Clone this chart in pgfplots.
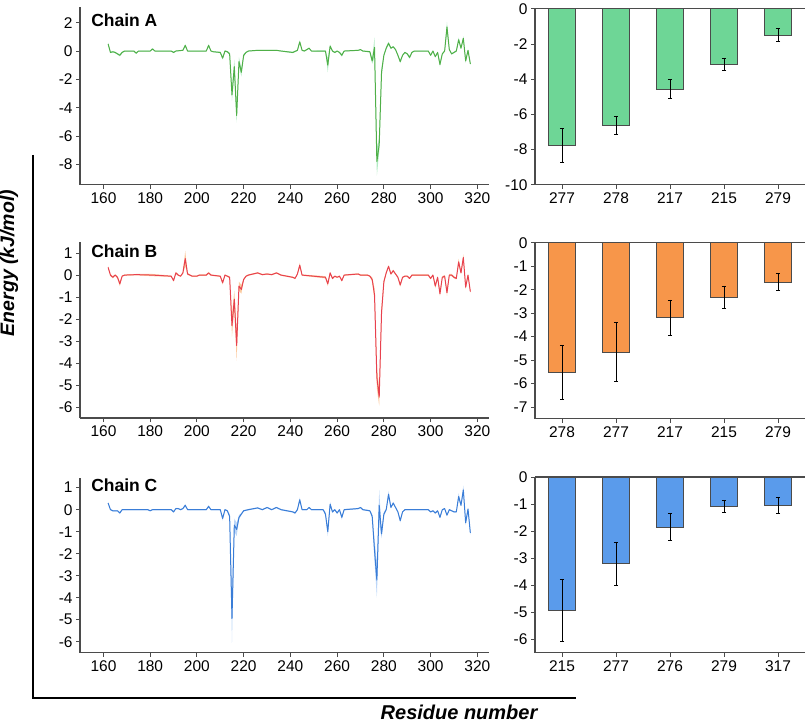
\documentclass[border=0pt]{standalone}
\usepackage{fontspec}
\setmainfont{Liberation Sans}
\usepackage{pgfplots}
\usepackage{pgfplotstable}
\pgfplotsset{compat=1.18}
\usepgfplotslibrary{fillbetween}

\definecolor{axgray}{RGB}{75,75,75}
\definecolor{lineA}{RGB}{80,175,72}
\definecolor{bandA}{RGB}{150,228,175}
\definecolor{lineB}{RGB}{232,65,78}
\definecolor{bandB}{RGB}{250,185,130}
\definecolor{lineC}{RGB}{58,125,215}
\definecolor{bandC}{RGB}{165,200,245}
\definecolor{barA}{RGB}{110,214,150}
\definecolor{barB}{RGB}{247,150,74}
\definecolor{barC}{RGB}{90,155,235}

\pgfplotstableread{
x v e
162 0.5 0.1
163 -0.1 0.05
164 -0.05 0.05
165 -0.1 0.05
166 -0.2 0.05
167 -0.3 0.08
168 -0.1 0.05
169 0 0.03
173 0 0.03
174 -0.15 0.05
175 0 0.03
180 0 0.03
181 0.15 0.05
182 0 0.03
189 0 0.03
190 -0.1 0.05
191 0 0.03
194 0.05 0.03
195 0.4 0.08
196 0 0.03
204 0 0.03
205 0.4 0.08
206 0 0.03
207 -0.05 0.03
210 -0.1 0.05
211 -0.5 0.1
212 0 0.05
213 -0.05 0.05
214 -0.2 0.1
215 -3.1 0.4
216 -1.1 0.5
217 -4.55 0.5
218 -0.75 0.3
219 -1.5 0.3
220 -0.3 0.1
221 -0.1 0.05
222 0 0.03
226 0.05 0.03
230 0.05 0.03
234 0.05 0.03
236 0 0.03
241 -0.1 0.05
243 0.05 0.05
244 0.65 0.1
245 0.05 0.05
246 0 0.03
248 0.2 0.05
249 0 0.03
255 0 0.05
256 -1.0 0.5
257 0.35 0.1
258 0 0.05
259 -0.1 0.05
260 0 0.03
261 -0.1 0.05
262 -0.3 0.1
263 0 0.03
269 0.05 0.03
270 0.1 0.03
271 0 0.03
274 -0.05 0.05
275 -0.7 0.2
276 0.25 0.7
277 -7.8 1.0
278 -6.6 0.5
279 -1.5 0.35
280 -0.3 0.1
281 0.2 0.1
282 0.55 0.1
283 0.2 0.05
284 0.3 0.05
285 0.1 0.05
286 -0.3 0.05
287 -0.75 0.1
288 -0.3 0.05
289 -0.1 0.05
290 -0.2 0.05
291 -0.45 0.1
292 -0.1 0.05
293 0 0.03
299 0 0.03
300 -0.3 0.05
301 0 0.05
302 -0.4 0.05
303 -0.1 0.05
304 -0.95 0.15
305 -0.2 0.05
306 0 0.05
307 1.7 0.35
308 0.1 0.05
309 -0.2 0.05
310 -0.1 0.05
311 0 0.05
312 0.8 0.15
313 0.2 0.05
314 0.9 0.15
315 -0.7 0.15
316 0.05 0.05
317 -0.9 0.1
}\chainA

\pgfplotstableread{
x v e
162 0.35 0.05
163 0 0.05
164 -0.1 0.05
165 0 0.03
166 -0.1 0.05
167 -0.4 0.1
168 -0.05 0.03
169 0 0.03
174 0.02 0.03
181 0.0 0.05
189 -0.05 0.03
190 -0.25 0.05
191 0.1 0.05
192 0 0.03
193 -0.05 0.03
194 0.1 0.05
195 0.75 0.35
196 0.05 0.05
197 0 0.03
198 -0.05 0.03
200 -0.05 0.03
201 0 0.03
204 0 0.03
205 0.1 0.05
206 0 0.03
210 -0.05 0.03
211 -0.35 0.08
212 0 0.03
213 -0.05 0.03
214 -0.1 0.05
215 -2.3 0.5
216 -1.1 0.4
217 -3.2 0.7
218 -0.5 0.2
219 -0.65 0.2
220 -0.2 0.05
221 -0.05 0.03
222 0 0.03
226 0.1 0.03
228 0.02 0.03
230 0.05 0.03
232 0.02 0.03
234 0.1 0.03
236 0 0.03
241 -0.1 0.03
242 -0.15 0.03
243 0.05 0.03
244 0.45 0.1
245 0 0.03
255 -0.1 0.05
256 -0.4 0.1
257 0.1 0.05
258 -0.15 0.05
259 -0.05 0.03
260 -0.1 0.03
261 -0.05 0.03
262 -0.25 0.05
263 0 0.03
269 0.05 0.03
270 0 0.03
273 0 0.03
274 -0.05 0.03
275 -0.2 0.1
276 -0.9 0.3
277 -4.65 0.5
278 -5.55 0.4
279 -1.7 0.3
280 -0.3 0.1
281 0.1 0.05
282 0.4 0.05
283 0.05 0.05
284 0.2 0.05
285 0.05 0.03
286 -0.1 0.05
287 -0.45 0.08
288 -0.1 0.03
289 -0.05 0.03
290 -0.05 0.03
291 -0.15 0.03
292 0 0.03
299 0 0.03
300 -0.15 0.05
301 0 0.03
302 -0.5 0.1
303 -0.1 0.05
304 -0.85 0.1
305 -0.1 0.05
306 -0.05 0.05
307 -0.8 0.15
308 0 0.05
309 0 0.05
310 -0.1 0.05
311 -0.15 0.05
312 0.6 0.15
313 0.1 0.05
314 0.8 0.15
315 -0.55 0.1
316 0 0.05
317 -0.75 0.05
}\chainB

\pgfplotstableread{
x v e
162 0.3 0.05
163 0 0.03
164 -0.05 0.03
166 -0.05 0.03
167 -0.15 0.05
168 0 0.03
179 0 0.03
180 -0.05 0.03
181 0 0.03
189 0 0.03
190 -0.1 0.03
191 0.05 0.03
192 0.05 0.03
193 0 0.03
194 0.05 0.03
195 0.2 0.05
196 0 0.03
204 0 0.03
205 0.15 0.05
206 0 0.03
210 0 0.03
211 -0.4 0.1
212 0 0.03
213 -0.05 0.03
214 -0.3 0.1
215 -4.95 1.1
216 -0.7 0.3
217 -0.9 0.3
218 -0.35 0.1
219 -0.2 0.05
220 -0.05 0.03
222 0 0.03
226 0.08 0.03
228 0 0.03
230 0.1 0.03
232 0 0.03
234 0.1 0.03
236 0 0.03
241 -0.1 0.03
242 -0.15 0.05
243 0 0.03
244 0.45 0.1
245 0 0.03
247 0 0.03
248 0.1 0.03
249 0 0.03
254 0 0.03
255 -0.2 0.1
256 -1.0 0.2
257 0.25 0.1
258 -0.1 0.05
259 0 0.03
260 -0.15 0.05
261 0 0.03
262 -0.35 0.1
263 0 0.03
269 0.05 0.03
270 0.1 0.03
271 0 0.03
274 -0.05 0.03
275 -0.3 0.1
276 -1.85 0.5
277 -3.2 0.8
278 0.2 0.7
279 -1.1 0.2
280 -0.2 0.1
281 0 0.05
282 0.7 0.15
283 0.1 0.05
284 0.3 0.05
285 0.1 0.03
286 -0.1 0.03
287 -0.5 0.08
288 -0.1 0.03
289 0 0.03
299 0 0.03
300 -0.1 0.03
301 -0.05 0.03
302 -0.15 0.05
303 -0.05 0.03
304 -0.35 0.05
305 0 0.03
306 0.05 0.03
307 -0.25 0.05
308 0 0.03
309 -0.05 0.03
310 -0.1 0.03
311 -0.1 0.03
312 0.6 0.15
313 0.2 0.05
314 0.9 0.2
315 -0.6 0.1
316 0.03 0.05
317 -1.05 0.1
}\chainC

\pgfplotstableread{
x v e
0 -7.75 0.95
1 -6.62 0.50
2 -4.56 0.55
3 -3.14 0.35
4 -1.49 0.36
}\barAt

\pgfplotstableread{
x v e
0 -5.51 1.15
1 -4.65 1.25
2 -3.18 0.75
3 -2.31 0.47
4 -1.67 0.36
}\barBt

\pgfplotstableread{
x v e
0 -4.93 1.15
1 -3.21 0.81
2 -1.85 0.50
3 -1.08 0.23
4 -1.05 0.30
}\barCt

\pgfplotsset{
  base/.style={
    scale only axis,
    axis x line=bottom, axis y line=left,
    every outer x axis line/.append style={-},
    every outer y axis line/.append style={-},
    axis line style={draw=axgray, line width=1.2pt, -},
    tick style={draw=axgray, line width=1pt},
    tick align=outside, major tick length=4pt,
    tick label style={font=\fontsize{15.5}{18}\selectfont, text=black},
    /pgf/number format/assume math mode=true,
    enlargelimits=false,
  },
  linep/.style={base, width=409pt, xmin=150, xmax=325, xtick={160,180,...,320}},
  barp/.style={base, width=270pt, xmin=-0.5, xmax=4.5, xtick={0,...,4}, clip=false,
    ybar, bar width=26.7pt},
}

\begin{document}
\begin{tikzpicture}
\path (0pt,0pt) rectangle (809pt,723pt);

% ---------- Line panels ----------
\begin{axis}[linep, at={(80pt,540.3pt)}, anchor=south west, height=177.7pt,
  ymin=-9.44, ymax=3.1, ytick={-8,-6,...,2}]
  \addplot[name path=alo, draw=none, forget plot] table[x=x, y expr=\thisrow{v}-\thisrow{e}] {\chainA};
  \addplot[name path=ahi, draw=none, forget plot] table[x=x, y expr=\thisrow{v}+\thisrow{e}] {\chainA};
  \addplot[bandA, fill opacity=0.75, draw=none] fill between[of=ahi and alo];
  \addplot[lineA, line width=1pt, line join=round] table[x=x, y=v] {\chainA};
\end{axis}

\begin{axis}[linep, at={(80pt,307pt)}, anchor=south west, height=176pt,
  ymin=-6.5, ymax=1.5, ytick={-6,-5,...,1}]
  \addplot[name path=blo, draw=none, forget plot] table[x=x, y expr=\thisrow{v}-\thisrow{e}] {\chainB};
  \addplot[name path=bhi, draw=none, forget plot] table[x=x, y expr=\thisrow{v}+\thisrow{e}] {\chainB};
  \addplot[bandB, fill opacity=0.75, draw=none] fill between[of=bhi and blo];
  \addplot[lineB, line width=1pt, line join=round] table[x=x, y=v] {\chainB};
\end{axis}

\begin{axis}[linep, at={(80pt,72.3pt)}, anchor=south west, height=175pt,
  ymin=-6.5, ymax=1.45, ytick={-6,-5,...,1}]
  \addplot[name path=clo, draw=none, forget plot] table[x=x, y expr=\thisrow{v}-\thisrow{e}] {\chainC};
  \addplot[name path=chi, draw=none, forget plot] table[x=x, y expr=\thisrow{v}+\thisrow{e}] {\chainC};
  \addplot[bandC, fill opacity=0.75, draw=none] fill between[of=chi and clo];
  \addplot[lineC, line width=1pt, line join=round] table[x=x, y=v] {\chainC};
\end{axis}

% ---------- Bar panels ----------
\begin{axis}[barp, at={(535pt,540.3pt)}, anchor=south west, height=176pt,
  ymin=-10, ymax=0, ytick={-10,-8,...,0}, xticklabels={277,278,217,215,279}]
  \addplot[fill=barA, draw=axgray, line width=0.7pt,
    error bars/.cd, y dir=both, y explicit,
    error bar style={black, line width=0.6pt},
    error mark options={rotate=90, mark size=2.2pt, black, line width=0.6pt}]
    table[x=x, y=v, y error=e] {\barAt};
  \draw[axgray, line width=1.2pt] (axis cs:-0.5,0) -- (axis cs:4.5,0);
\end{axis}

\begin{axis}[barp, at={(535pt,306.3pt)}, anchor=south west, height=176pt,
  ymin=-7.5, ymax=0, ytick={-7,-6,...,0}, xticklabels={278,277,217,215,279}]
  \addplot[fill=barB, draw=axgray, line width=0.7pt,
    error bars/.cd, y dir=both, y explicit,
    error bar style={black, line width=0.6pt},
    error mark options={rotate=90, mark size=2.2pt, black, line width=0.6pt}]
    table[x=x, y=v, y error=e] {\barBt};
  \draw[axgray, line width=1.2pt] (axis cs:-0.5,0) -- (axis cs:4.5,0);
\end{axis}

\begin{axis}[barp, at={(535pt,72.3pt)}, anchor=south west, height=175.7pt,
  ymin=-6.5, ymax=0, ytick={-6,-5,...,0}, xticklabels={215,277,276,279,317}]
  \addplot[fill=barC, draw=axgray, line width=0.7pt,
    error bars/.cd, y dir=both, y explicit,
    error bar style={black, line width=0.6pt},
    error mark options={rotate=90, mark size=2.2pt, black, line width=0.6pt}]
    table[x=x, y=v, y error=e] {\barCt};
  \draw[axgray, line width=1.2pt] (axis cs:-0.5,0) -- (axis cs:4.5,0);
\end{axis}

% ---------- Labels ----------
\node[anchor=base west, inner sep=0pt, font=\fontsize{17.5}{20}\selectfont\bfseries] at (91pt,699pt) {Chain A};
\node[anchor=base west, inner sep=0pt, font=\fontsize{17.5}{20}\selectfont\bfseries] at (91pt,467.3pt) {Chain B};
\node[anchor=base west, inner sep=0pt, font=\fontsize{17.5}{20}\selectfont\bfseries] at (91pt,234pt) {Chain C};

\draw[black, line width=2.7pt] (33pt,570.3pt) -- (33pt,27pt) -- (576pt,27pt);
\node[rotate=90, inner sep=0pt, font=\fontsize{19.5}{22}\selectfont\bfseries\itshape] at (9pt,462pt) {Energy (kJ/mol)};
\node[anchor=base, inner sep=0pt, font=\fontsize{20}{22}\selectfont\bfseries\itshape] at (459pt,6pt) {Residue number};
\end{tikzpicture}
\end{document}
